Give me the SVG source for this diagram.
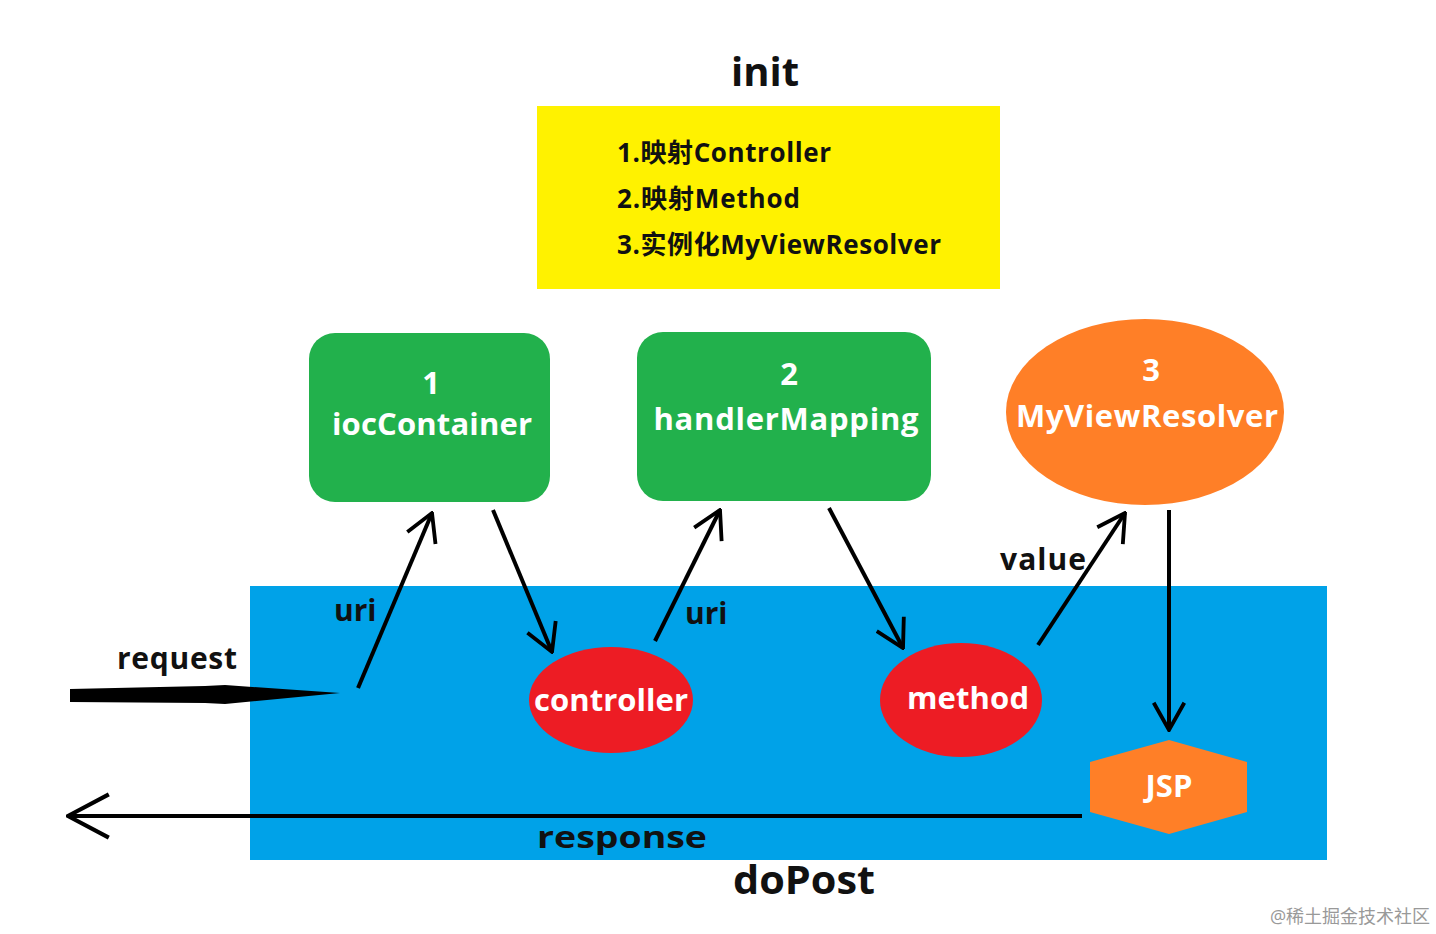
<svg xmlns="http://www.w3.org/2000/svg" width="1436" height="934" viewBox="0 0 1436 934">
<style>
text{font-family:"Open Sans","Noto Sans CJK SC",sans-serif;font-weight:bold}
.w{fill:#fff;font-size:31px;text-anchor:middle}
.b{fill:#111;font-size:30px}
.c{stroke:#000;stroke-width:4;fill:none}
</style>
<defs>
<marker id="v" viewBox="0 0 40 40" refX="38" refY="20" markerWidth="34" markerHeight="34" markerUnits="userSpaceOnUse" orient="auto">
<polyline points="6,2 38,20 6,38" fill="none" stroke="#000" stroke-width="4.5"/>
</marker>
<marker id="v2" viewBox="0 0 40 40" refX="38" refY="20" markerWidth="48" markerHeight="48" markerUnits="userSpaceOnUse" orient="auto">
<polyline points="4,2 38,20 4,38" fill="none" stroke="#000" stroke-width="3.5"/>
</marker>
</defs>
<rect width="1436" height="934" fill="#fff"/>
<text x="765" y="86" font-size="40" text-anchor="middle" fill="#111">init</text>
<g id="init-box">
<rect x="537" y="106" width="463" height="183" fill="#FFF200"/>
<text x="617" y="162" font-size="26" fill="#111" textLength="214">1.映射Controller</text>
<text x="617" y="208" font-size="26" fill="#111" textLength="183">2.映射Method</text>
<text x="617" y="254" font-size="26" fill="#111" textLength="324">3.实例化MyViewResolver</text>
</g>
<g id="doPost-area">
<rect x="250" y="586" width="1077" height="274" fill="#00A2E8"/>
</g>
<g id="iocContainer">
<rect x="309" y="333" width="241" height="169" rx="26" fill="#22B14C"/>
<text class="w" x="431" y="394">1</text>
<text class="w" x="432" y="435" textLength="200">iocContainer</text>
</g>
<g id="handlerMapping">
<rect x="637" y="332" width="294" height="169" rx="26" fill="#22B14C"/>
<text class="w" x="789" y="385">2</text>
<text class="w" x="786" y="430" textLength="265">handlerMapping</text>
</g>
<g id="MyViewResolver">
<ellipse cx="1145" cy="412" rx="139" ry="93" fill="#FF7F27"/>
<text class="w" x="1151" y="381">3</text>
<text class="w" x="1147" y="427" textLength="262">MyViewResolver</text>
</g>
<g id="controller">
<ellipse cx="611" cy="700" rx="82" ry="53" fill="#ED1C24"/>
<text class="w" x="611" y="711" textLength="154">controller</text>
</g>
<g id="method">
<ellipse cx="961" cy="700" rx="81" ry="57" fill="#ED1C24"/>
<text class="w" x="968" y="709" textLength="122">method</text>
</g>
<g id="JSP">
<polygon points="1090,762 1169,740 1247,762 1247,812 1169,834 1090,812" fill="#FF7F27"/>
<text class="w" x="1169" y="797">JSP</text>
</g>
<g id="connectors">
<polygon points="70,689 205,686 225,685 340,693 225,704 205,703 70,702" fill="#000"/>
<line class="c" x1="358" y1="688" x2="432" y2="513" marker-end="url(#v)"/>
<line class="c" x1="493" y1="510" x2="552" y2="652" marker-end="url(#v)"/>
<line class="c" x1="655" y1="641" x2="720" y2="510" marker-end="url(#v)"/>
<line class="c" x1="829" y1="508" x2="903" y2="648" marker-end="url(#v)"/>
<line class="c" x1="1038" y1="645" x2="1125" y2="513" marker-end="url(#v)"/>
<line class="c" x1="1169" y1="510" x2="1169" y2="730" marker-end="url(#v)"/>
<line class="c" x1="1082" y1="816" x2="68" y2="816" marker-end="url(#v2)"/>
</g>
<text class="b" x="334" y="621">uri</text>
<text class="b" x="117" y="669" textLength="120">request</text>
<text class="b" x="685" y="624">uri</text>
<text class="b" x="1000" y="570" textLength="86">value</text>
<text class="b" x="537" y="848" font-size="36" textLength="170" lengthAdjust="spacingAndGlyphs">response</text>
<text x="804" y="894" font-size="40" text-anchor="middle" fill="#111" textLength="142" lengthAdjust="spacingAndGlyphs">doPost</text>
<text x="1350" y="923" font-size="18" text-anchor="middle" fill="#999" style="font-weight:normal">@稀土掘金技术社区</text>
</svg>
